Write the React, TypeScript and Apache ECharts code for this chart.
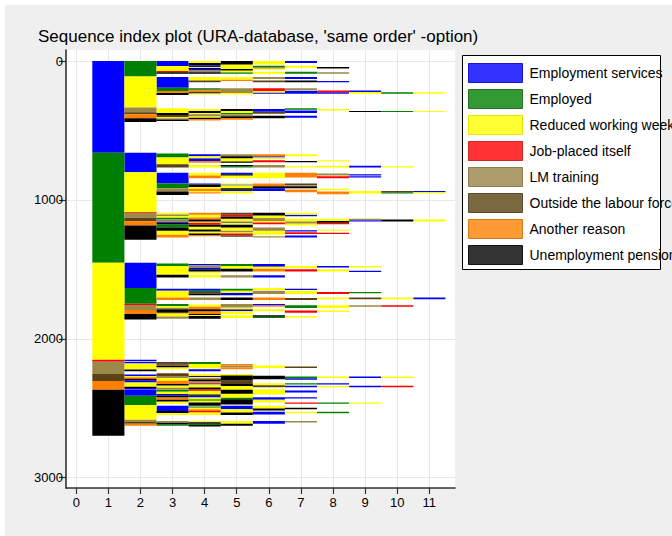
import React, { useEffect, useRef } from "react";
import * as echarts from "echarts";

const TITLE = "Sequence index plot (URA-database, 'same order' -option)";
const STATES = [
  "Employment services",
  "Employed",
  "Reduced working week",
  "Job-placed itself",
  "LM training",
  "Outside the labour force",
  "Another reason",
  "Unemployment pension",
];
const STATE_COLORS = ["#0000ff", "#008000", "#ffff00", "#ff0000", "#9c8847", "#5a4214", "#ff8000", "#000000"];
const LEGEND_COLORS = ["#3333ff", "#339933", "#ffff33", "#ff3333", "#ad9d6d", "#7a6842", "#ff9933", "#333333"];
const LEGEND_BORDERS = ["#1a1acc", "#267326", "#e6e600", "#cc2626", "#8c7c50", "#5a4a2a", "#d97a1a", "#111111"];
const X_TICKS = [0, 1, 2, 3, 4, 5, 6, 7, 8, 9, 10, 11];
const Y_TICKS = [0, 1000, 2000, 3000];

// state codes
const ES = 0, EM = 1, RW = 2, JP = 3, LM = 4, OL = 5, AR = 6, UP = 7;

// each entry: [first sequence, last sequence, state]
const pos1 = [
  [0, 661, ES], [661, 1452, EM], [1452, 2152, RW], [2152, 2166, JP], [2166, 2253, LM],
  [2253, 2305, OL], [2305, 2368, AR], [2368, 2699, UP],
];
const pos2 = [
  [0, 110, EM], [110, 335, RW], [335, 369, LM], [369, 383, OL], [383, 412, AR], [412, 438, UP],
  [661, 800, ES], [800, 1088, RW], [1088, 1095, JP], [1095, 1129, LM], [1129, 1153, OL], [1153, 1184, AR], [1184, 1287, UP],
  [1452, 1634, ES], [1634, 1747, EM], [1747, 1757, JP], [1757, 1793, LM], [1793, 1822, AR], [1822, 1862, UP],
  [2152, 2160, ES], [2166, 2178, ES], [2178, 2222, RW], [2222, 2234, UP],
  [2258, 2268, ES], [2268, 2278, RW], [2278, 2284, AR], [2284, 2290, JP], [2290, 2298, UP], [2298, 2305, ES],
  [2305, 2315, ES], [2315, 2345, RW], [2345, 2355, UP], [2355, 2365, ES],
  [2368, 2410, ES], [2410, 2478, EM], [2478, 2584, RW], [2584, 2600, LM], [2600, 2612, OL], [2612, 2627, AR],
];
const pos3 = [
  [0, 36, ES], [36, 72, RW], [72, 80, JP], [80, 91, UP],
  [115, 192, ES], [192, 216, EM], [216, 230, AR], [230, 245, UP],
  [340, 374, RW], [374, 388, UP], [388, 403, OL], [403, 412, RW], [412, 420, LM], [420, 431, UP],
  [666, 695, EM], [695, 743, RW], [743, 767, OL],
  [805, 882, ES], [882, 916, EM], [916, 940, LM], [940, 964, UP],
  [1093, 1105, RW], [1105, 1115, LM], [1115, 1127, RW], [1127, 1141, EM], [1141, 1155, LM], [1155, 1165, ES],
  [1165, 1175, UP], [1175, 1199, EM], [1199, 1222, UP], [1222, 1251, RW], [1251, 1270, AR],
  [1457, 1476, EM], [1476, 1539, RW], [1539, 1558, UP],
  [1639, 1654, ES], [1654, 1702, RW], [1702, 1721, AR],
  [1750, 1764, EM], [1764, 1776, RW], [1776, 1788, LM], [1788, 1807, UP], [1807, 1816, OL], [1816, 1840, RW], [1840, 1855, LM],
  [2167, 2178, OL], [2178, 2186, UP], [2186, 2193, AR], [2193, 2205, UP], [2205, 2219, RW],
  [2248, 2272, OL], [2272, 2282, LM], [2282, 2303, RW], [2303, 2326, AR], [2326, 2337, UP], [2337, 2352, RW],
  [2352, 2368, LM], [2368, 2382, EM], [2382, 2397, RW], [2397, 2409, ES], [2409, 2421, UP], [2421, 2440, AR],
  [2440, 2452, UP], [2452, 2469, RW],
  [2483, 2521, ES], [2521, 2535, UP], [2535, 2550, RW],
  [2593, 2605, LM], [2605, 2615, UP], [2615, 2627, EM],
];
const pos4 = [
  [0, 14, RW], [14, 29, UP], [29, 43, ES], [43, 50, RW], [50, 57, UP], [57, 67, ES], [67, 81, LM], [81, 91, UP],
  [115, 139, RW], [139, 153, OL],
  [196, 204, EM], [204, 211, OL], [211, 225, AR], [225, 232, UP], [232, 240, RW],
  [345, 359, RW], [359, 374, UP], [374, 383, RW], [383, 398, LM], [398, 408, RW], [408, 417, UP], [417, 427, AR],
  [671, 685, ES], [685, 700, RW], [700, 719, ES], [719, 733, AR],
  [748, 767, RW],
  [805, 824, RW], [824, 844, AR],
  [882, 889, ES], [889, 906, UP], [906, 920, RW], [920, 935, AR], [935, 945, RW], [945, 954, AR],
  [1093, 1107, AR], [1107, 1127, RW], [1127, 1141, AR], [1141, 1155, UP], [1155, 1165, RW], [1165, 1179, JP],
  [1179, 1194, UP], [1194, 1213, RW], [1213, 1227, UP], [1227, 1242, RW], [1242, 1252, UP], [1252, 1261, AR],
  [1462, 1471, ES], [1471, 1486, LM], [1486, 1500, ES], [1500, 1515, UP], [1515, 1529, RW],
  [1539, 1558, RW],
  [1639, 1654, ES], [1654, 1663, EM], [1663, 1675, OL], [1675, 1687, UP],
  [1702, 1721, LM],
  [1754, 1769, RW], [1769, 1788, AR], [1788, 1802, UP], [1802, 1821, AR], [1821, 1829, UP], [1829, 1836, RW], [1836, 1855, UP],
  [2167, 2181, EM], [2181, 2215, RW], [2219, 2234, ES],
  [2253, 2267, RW], [2267, 2276, ES], [2276, 2286, RW], [2286, 2296, OL], [2296, 2306, UP], [2306, 2320, AR],
  [2320, 2329, ES], [2329, 2351, RW], [2351, 2363, UP], [2363, 2375, JP], [2375, 2401, RW], [2401, 2411, UP],
  [2411, 2423, ES], [2423, 2435, RW], [2435, 2447, EM], [2447, 2459, RW], [2459, 2483, UP],
  [2488, 2497, EM], [2497, 2507, RW], [2507, 2521, AR], [2521, 2530, JP], [2530, 2550, RW],
  [2593, 2602, RW], [2602, 2612, UP], [2612, 2622, EM], [2622, 2632, UP],
];
const pos5 = [
  [0, 24, UP], [24, 57, RW], [57, 67, UP], [67, 81, RW], [81, 91, EM],
  [115, 134, RW], [134, 144, AR],
  [196, 230, LM], [230, 240, RW],
  [345, 359, UP], [359, 374, RW], [374, 383, EM], [383, 398, LM], [398, 410, UP], [410, 422, AR],
  [671, 685, LM], [685, 700, UP], [700, 724, RW], [724, 733, UP],
  [748, 758, UP], [758, 767, EM],
  [805, 815, ES], [815, 824, UP], [824, 844, RW],
  [882, 889, RW], [889, 896, ES], [896, 916, RW], [916, 926, UP], [926, 935, ES], [935, 954, RW],
  [1093, 1107, OL], [1107, 1122, JP], [1122, 1136, UP], [1136, 1155, RW], [1155, 1165, ES], [1165, 1179, RW],
  [1179, 1199, UP], [1199, 1222, RW], [1222, 1232, LM], [1232, 1242, RW], [1242, 1254, JP], [1254, 1266, OL],
  [1462, 1476, EM], [1476, 1495, RW], [1495, 1515, UP],
  [1543, 1558, LM],
  [1639, 1654, EM], [1654, 1668, RW], [1668, 1687, ES],
  [1702, 1721, UP],
  [1750, 1774, LM], [1774, 1788, RW], [1788, 1802, ES], [1802, 1821, RW], [1831, 1850, RW],
  [2181, 2193, AR], [2193, 2207, LM], [2207, 2219, AR],
  [2253, 2265, RW], [2265, 2301, UP], [2301, 2325, OL], [2325, 2340, UP], [2340, 2368, RW], [2368, 2396, UP],
  [2396, 2423, RW], [2423, 2435, EM], [2435, 2474, UP],
  [2483, 2507, ES], [2507, 2531, RW], [2531, 2550, UP],
  [2593, 2612, RW], [2612, 2627, UP],
];
const pos6 = [
  [0, 24, RW], [33, 43, EM], [43, 53, LM], [53, 62, RW], [77, 91, RW], [115, 129, LM], [139, 153, OL],
  [196, 216, JP], [216, 226, RW], [226, 235, ES], [345, 364, ES], [364, 379, OL], [393, 412, UP],
  [671, 685, AR], [685, 695, ES], [695, 705, RW], [714, 729, JP], [748, 767, LM], [805, 844, RW],
  [882, 901, AR], [901, 916, UP], [916, 935, ES], [1093, 1112, UP], [1112, 1131, RW], [1131, 1151, LM],
  [1151, 1163, RW], [1163, 1175, JP], [1199, 1222, LM], [1222, 1251, RW], [1261, 1270, LM],
  [1462, 1481, ES], [1481, 1495, RW], [1495, 1515, AR], [1543, 1558, ES], [1634, 1649, RW], [1654, 1678, LM],
  [1702, 1721, AR], [1750, 1760, ES], [1760, 1769, AR], [1788, 1802, RW], [1831, 1841, UP], [1841, 1850, EM],
  [2193, 2210, RW], [2267, 2291, UP], [2320, 2334, RW], [2334, 2349, OL], [2363, 2402, RW], [2421, 2440, ES],
  [2440, 2459, RW], [2483, 2502, RW], [2502, 2516, UP], [2526, 2545, ES], [2593, 2612, ES],
];
const pos7 = [
  [0, 14, ES], [33, 48, RW], [77, 91, EM], [115, 129, ES], [139, 153, UP], [196, 211, LM], [216, 235, ES],
  [340, 350, EM], [355, 374, ES], [393, 408, ES],
  [671, 685, RW], [719, 729, UP], [757, 767, RW], [805, 839, AR], [882, 896, OL], [901, 916, UP], [925, 944, AR],
  [1093, 1107, RW], [1107, 1117, ES], [1136, 1155, RW], [1155, 1170, LM], [1170, 1184, RW], [1218, 1227, ES],
  [1232, 1246, JP], [1256, 1270, ES],
  [1476, 1491, RW], [1500, 1515, JP], [1639, 1649, ES], [1654, 1678, RW], [1706, 1721, OL], [1759, 1778, EM],
  [1797, 1812, JP], [1836, 1846, RW],
  [2200, 2210, OL], [2272, 2284, EM], [2284, 2296, ES], [2320, 2330, EM], [2339, 2349, ES], [2373, 2387, ES],
  [2421, 2430, ES], [2459, 2469, JP], [2497, 2507, UP], [2526, 2536, RW], [2593, 2603, LM],
];
const pos8 = [
  [43, 53, UP], [81, 91, LM], [144, 153, ES], [211, 225, JP], [225, 235, ES], [345, 355, RW],
  [714, 724, RW], [753, 767, RW], [810, 824, LM], [829, 844, JP], [920, 930, RW], [940, 959, AR],
  [1136, 1151, RW], [1151, 1165, UP], [1165, 1175, JP], [1213, 1222, RW], [1237, 1246, JP],
  [1476, 1486, ES], [1500, 1515, RW], [1663, 1678, JP], [1702, 1716, RW], [1759, 1778, RW], [1797, 1807, RW],
  [2272, 2282, RW], [2320, 2330, ES], [2339, 2349, RW], [2459, 2469, EM], [2526, 2536, EM],
];
const pos9 = [
  [211, 223, ES], [223, 235, RW], [359, 364, UP],
  [753, 767, ES], [815, 824, ES], [829, 839, ES], [935, 954, RW], [1136, 1146, LM], [1146, 1155, ES],
  [1476, 1486, RW], [1510, 1519, ES], [1663, 1673, EM], [1702, 1716, OL], [1759, 1769, LM],
  [2272, 2282, ES], [2339, 2349, ES], [2459, 2469, RW],
];
const pos10 = [
  [225, 235, EM], [359, 364, EM],
  [757, 767, RW], [935, 945, OL], [945, 954, EM], [1141, 1155, UP],
  [1702, 1716, RW], [1759, 1769, JP],
  [2272, 2282, RW], [2339, 2349, JP],
];
const pos11 = [
  [225, 235, RW], [359, 364, RW],
  [935, 945, ES], [945, 954, RW], [1141, 1155, RW],
  [1702, 1716, ES],
];
const POSITIONS = [pos1, pos2, pos3, pos4, pos5, pos6, pos7, pos8, pos9, pos10, pos11];

const FONT = "'Liberation Sans', Arial, Helvetica, sans-serif";

export default function App() {
  const ref = useRef<HTMLDivElement>(null);
  useEffect(() => {
    const chart = echarts.init(ref.current as HTMLDivElement, null, { renderer: "svg" });
    const seriesData: number[][][] = STATES.map(() => []);
    POSITIONS.forEach((col, i) => {
      col.forEach(([a, b, s]) => {
        seriesData[s].push([i + 1, a, b]);
      });
    });
    const option = {
      animation: false,
      backgroundColor: "#efefef",
      title: {
        text: TITLE,
        left: 38,
        top: 28,
        padding: 0,
        textStyle: { fontSize: 17, fontWeight: "normal", color: "#000", fontFamily: FONT },
      },
      graphic: [
        { type: "rect", shape: { x: 0, y: 0, width: 672, height: 5 }, style: { fill: "#fff" }, silent: true },
        { type: "rect", shape: { x: 0, y: 0, width: 5, height: 536 }, style: { fill: "#fff" }, silent: true },
        {
          type: "rect",
          shape: { x: 462.5, y: 55.5, width: 198, height: 214 },
          style: { fill: "#fff", stroke: "#000", lineWidth: 1 },
          silent: true,
        },
      ],
      grid: {
        left: 66,
        top: 50,
        right: 217,
        bottom: 48,
        show: true,
        backgroundColor: "#fff",
        borderWidth: 0,
      },
      xAxis: {
        type: "value",
        min: -0.32,
        max: 11.8,
        axisLine: { show: true, onZero: false, lineStyle: { color: "#333", width: 1.6 } },
        axisTick: { show: true, length: 6, customValues: X_TICKS, lineStyle: { color: "#333", width: 1.2 } },
        axisLabel: {
          customValues: X_TICKS,
          margin: 8,
          fontSize: 13,
          color: "#000",
          fontFamily: FONT,
          formatter: (v: number) => String(v),
        },
        splitLine: { show: true, lineStyle: { color: "#e8e8e8", width: 1 } },
      },
      yAxis: {
        type: "value",
        inverse: true,
        min: -80,
        max: 3075,
        axisLine: { show: true, onZero: false, lineStyle: { color: "#333", width: 1.6 } },
        axisTick: { show: true, length: 7, customValues: Y_TICKS, lineStyle: { color: "#333", width: 1.2 } },
        axisLabel: {
          customValues: Y_TICKS,
          margin: 3,
          fontSize: 13,
          color: "#000",
          fontFamily: FONT,
          formatter: (v: number) => String(v),
        },
        splitLine: { show: true, lineStyle: { color: "#e8e8e8", width: 1 } },
      },
      legend: {
        orient: "vertical",
        left: 468,
        top: 63,
        padding: 0,
        itemWidth: 54,
        itemHeight: 19,
        itemGap: 6,
        icon: "rect",
        selectedMode: false,
        textStyle: { fontSize: 14, lineHeight: 19, color: "#000", fontFamily: FONT, padding: [0, 0, 0, 2] },
        data: STATES.map((name, i) => ({
          name,
          itemStyle: { color: LEGEND_COLORS[i], borderColor: LEGEND_BORDERS[i], borderWidth: 1 },
        })),
      },
      series: STATES.map((name, s) => ({
        type: "custom",
        name,
        data: seriesData[s],
        encode: { x: 0, y: [1, 2] },
        itemStyle: { color: STATE_COLORS[s] },
        clip: true,
        renderItem: (params: any, api: any) => {
          const p0 = api.coord([api.value(0) - 0.5, api.value(1)]);
          const p1 = api.coord([api.value(0) + 0.5, api.value(2)]);
          const h = Math.max(Math.abs(p1[1] - p0[1]), 1);
          return {
            type: "rect",
            shape: { x: p0[0], y: Math.min(p0[1], p1[1]), width: p1[0] - p0[0], height: h },
            style: { fill: STATE_COLORS[s] },
          };
        },
      })),
    };
    chart.setOption(option as any);
    return () => chart.dispose();
  }, []);
  return (
    <div
      ref={ref}
      style={{ position: "absolute", left: 0, top: 0, width: 672, height: 536 }}
    />
  );
}
